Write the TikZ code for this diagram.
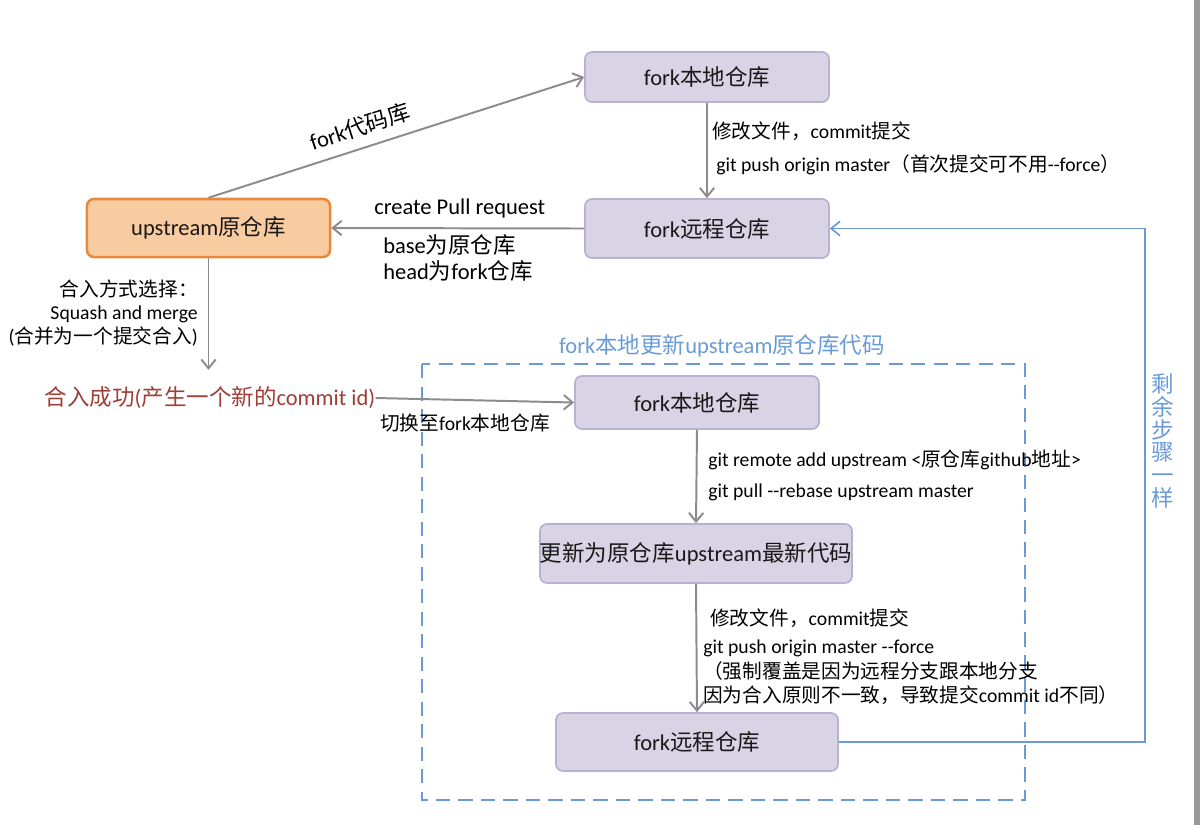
\documentclass[tikz,border=0pt]{standalone}
\usepackage{fontspec}
\setmainfont{Carlito}
\newfontfamily\cjk{Noto Sans CJK SC}
\newcommand{\zh}[1]{{\cjk #1}}
\usepackage{tikz}
\usetikzlibrary{arrows.meta}

\definecolor{boxfill}{RGB}{216,211,229}
\definecolor{boxline}{RGB}{185,177,210}
\definecolor{upfill}{RGB}{249,203,160}
\definecolor{upline}{RGB}{232,136,58}
\definecolor{arrgray}{RGB}{140,140,140}
\definecolor{stepblue}{RGB}{106,155,216}
\definecolor{mergered}{RGB}{158,62,54}

\begin{document}
\begin{tikzpicture}[x=0.025cm, y=-0.025cm,
	>={Straight Barb[length=2.2mm,width=3.6mm]},
    repo/.style = {rectangle, rounded corners=5pt, draw=boxline, line width=1.2pt,
                   fill=boxfill, inner sep=0pt, text=black!90,
                   font=\fontsize{16}{19}\selectfont},
    upstreamrepo/.style = {repo, draw=upline, fill=upfill, line width=1.8pt},
    arr/.style = {->, color=arrgray, line width=1.4pt},
    bluearr/.style = {->, draw=stepblue, line width=1.2pt},
    lbl/.style = {font=\fontsize{14}{16.7}\selectfont, inner sep=0pt, align=left, text=black},
    biglbl/.style = {font=\fontsize{16}{18.4}\selectfont, inner sep=0pt, align=left, text=black}]
  \useasboundingbox (0,0) rectangle (1200,825);
  \fill[black!40] (1194,0) rectangle (1200,825);

  % upper part
  \node (forklocal) [repo, minimum width=6.1cm, minimum height=1.25cm] at (707,77) {fork\zh{本地仓库}};
  \node (forkremote) [repo, minimum width=6.1cm, minimum height=1.475cm] at (707,228.5) {fork\zh{远程仓库}};
  \node (upstream) [upstreamrepo, minimum width=6.075cm, minimum height=1.45cm] at (208.5,228) {upstream\zh{原仓库}};
  \node (merged) [biglbl, text=mergered] at (210,398) {\zh{合入成功}(\zh{产生一个新的}commit id)};

  \node (commit1) [lbl, anchor=west] at (712,131) {\zh{修改文件，}commit\zh{提交}};
  \node (push1) [lbl, anchor=west] at (716,165) {git push origin master\zh{（首次提交可不用}-{}-force\zh{）}};
  \node (prlabel) [biglbl, anchor=west] at (374,208) {create Pull request};
  \node (baselabel) [biglbl, anchor=west] at (383,258) {base\zh{为原仓库}\\head\zh{为}fork\zh{仓库}};
  \node (squash) [lbl, anchor=east, align=right] at (198,313) {\zh{合入方式选择：}\\Squash and merge\\(\zh{合并为一个提交合入})};

  % update block
  \draw[stepblue, line width=2pt, dash pattern=on 10pt off 6pt] (422,364) rectangle (1025,800);
  \node (blocktitle) [biglbl, text=stepblue] at (722,346) {fork\zh{本地更新}upstream\zh{原仓库代码}};
  \node (local2) [repo, minimum width=6.1cm, minimum height=1.325cm] at (697,402.5) {fork\zh{本地仓库}};
  \node (updated) [repo, minimum width=7.8cm, minimum height=1.475cm] at (696,553.5) {\zh{更新为原仓库}upstream\zh{最新代码}};
  \node (remote2) [repo, minimum width=7.05cm, minimum height=1.45cm] at (697,742) {fork\zh{远程仓库}};

  \node (remoteadd) [lbl, anchor=west] at (708,460) {git remote add upstream <\zh{原仓库}github\zh{地址}>};
  \node (pull) [lbl, anchor=west] at (708,492) {git pull -{}-rebase upstream master};
  \node (commit2) [lbl, anchor=west] at (710,618) {\zh{修改文件，}commit\zh{提交}};
  \node (push2) [lbl, anchor=west] at (703,648) {git push origin master -{}-force};
  \node (forcenote) [lbl, anchor=west] at (703,683) {\zh{（强制覆盖是因为远程分支跟本地分支}\\\zh{因为合入原则不一致，导致提交}commit id\zh{不同）}};

  \coordinate (turn) at (1145,742);
  \node (samesteps) [font={\fontsize{16}{16.3}\selectfont\cjk}, text=stepblue, align=center, inner sep=0pt] at (1163,441) {剩\\余\\步\\骤\\一\\样};

  \path[arr]
    (upstream.north) edge node[pos=0.42, above=7pt, sloped, biglbl] {fork\zh{代码库}} (forklocal.west)
    (forklocal.south) edge (forkremote.north)
    (forkremote.west) edge (upstream.east)
    (upstream.south) edge[shorten >=12pt] (upstream.south |- merged.north)
    (merged.east) edge node[pos=0.45, below=9pt, lbl] {\zh{切换至}fork\zh{本地仓库}} (local2.west)
    (local2.south) edge (updated.north)
    (updated.south) edge (remote2.north);

  \draw[bluearr] (remote2.east) -- (turn) |- (forkremote.east);
\end{tikzpicture}
\end{document}
